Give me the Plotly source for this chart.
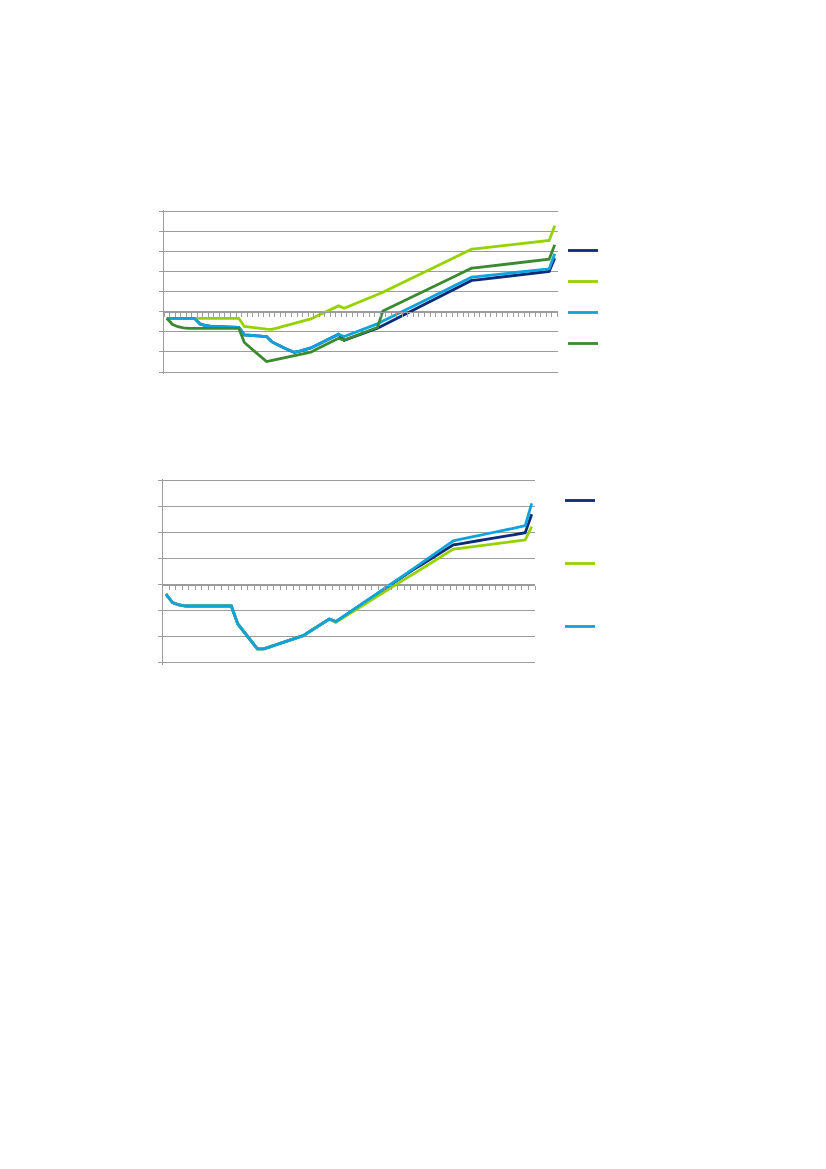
import plotly.graph_objects as go

W, H = 826, 1169

# ---- upper panel: four scenarios, yearly values ----
years_a = list(range(2010, 2081))  # 71 categories

navy_a = [
    -0.32, -0.32, -0.32, -0.32, -0.32, -0.32, -0.60, -0.68, -0.72, -0.73,
    -0.74, -0.75, -0.76, -0.77, -1.15, -1.17, -1.19, -1.21, -1.23, -1.50,
    -1.65, -1.78, -1.90, -2.02, -1.96, -1.89, -1.80, -1.67, -1.53, -1.39,
    -1.25, -1.12, -1.42, -1.32, -1.21, -1.11, -1.01, -0.91, -0.82, -0.68,
    -0.54, -0.40, -0.26, -0.12, 0.03, 0.17, 0.31, 0.45, 0.59, 0.73,
    0.87, 1.01, 1.15, 1.29, 1.43, 1.57, 1.60, 1.63, 1.67, 1.70,
    1.73, 1.76, 1.79, 1.83, 1.86, 1.89, 1.92, 1.95, 1.99, 2.02,
    2.68,
]
lime_a = [
    -0.32, -0.32, -0.32, -0.32, -0.32, -0.32, -0.32, -0.32, -0.32, -0.32,
    -0.32, -0.32, -0.32, -0.32, -0.73, -0.77, -0.80, -0.83, -0.86, -0.87,
    -0.80, -0.73, -0.65, -0.58, -0.50, -0.43, -0.35, -0.22, -0.09, 0.04,
    0.17, 0.30, 0.18, 0.29, 0.40, 0.51, 0.63, 0.74, 0.85, 0.98,
    1.12, 1.25, 1.39, 1.52, 1.65, 1.79, 1.92, 2.06, 2.19, 2.32,
    2.46, 2.59, 2.73, 2.86, 3.00, 3.13, 3.16, 3.19, 3.22, 3.26,
    3.29, 3.32, 3.35, 3.38, 3.41, 3.44, 3.48, 3.51, 3.54, 3.57,
    4.30,
]
sky_a = [
    -0.32, -0.32, -0.32, -0.32, -0.32, -0.32, -0.60, -0.68, -0.72, -0.73,
    -0.74, -0.75, -0.76, -0.77, -1.15, -1.17, -1.19, -1.21, -1.23, -1.50,
    -1.65, -1.78, -1.90, -2.02, -1.96, -1.89, -1.80, -1.67, -1.53, -1.39,
    -1.25, -1.12, -1.23, -1.13, -1.02, -0.92, -0.81, -0.71, -0.60, -0.46,
    -0.33, -0.19, -0.05, 0.08, 0.22, 0.36, 0.49, 0.63, 0.77, 0.90,
    1.04, 1.18, 1.32, 1.45, 1.59, 1.73, 1.76, 1.79, 1.82, 1.85,
    1.88, 1.91, 1.94, 1.97, 2.00, 2.03, 2.06, 2.09, 2.12, 2.15,
    2.90,
]
green_a = [
    -0.32, -0.62, -0.74, -0.80, -0.82, -0.82, -0.82, -0.82, -0.82, -0.82,
    -0.82, -0.82, -0.82, -0.82, -1.53, -1.77, -2.01, -2.25, -2.48, -2.42,
    -2.36, -2.30, -2.24, -2.18, -2.12, -2.07, -2.01, -1.87, -1.73, -1.59,
    -1.46, -1.32, -1.40, -1.30, -1.19, -1.09, -0.99, -0.88, -0.78, 0.05,
    0.18, 0.32, 0.45, 0.58, 0.72, 0.85, 0.98, 1.12, 1.25, 1.38,
    1.52, 1.65, 1.78, 1.92, 2.05, 2.18, 2.21, 2.24, 2.28, 2.31,
    2.34, 2.37, 2.40, 2.44, 2.47, 2.50, 2.53, 2.56, 2.60, 2.63,
    3.35,
]

# ---- lower panel: three scenarios ----
years_b = list(range(2024, 2081))  # 57 categories

navy_b = [
    -0.36, -0.69, -0.78, -0.82, -0.82, -0.82, -0.82, -0.82, -0.82, -0.82,
    -0.82, -1.51, -1.83, -2.15, -2.47, -2.47, -2.39, -2.30, -2.22, -2.14,
    -2.06, -1.96, -1.80, -1.64, -1.48, -1.32, -1.42, -1.25, -1.09, -0.92,
    -0.76, -0.59, -0.41, -0.24, -0.06, 0.11, 0.29, 0.44, 0.60, 0.75,
    0.91, 1.06, 1.22, 1.37, 1.53, 1.57, 1.62, 1.66, 1.70, 1.74,
    1.79, 1.83, 1.87, 1.91, 1.96, 2.00, 2.71,
]
lime_b = [
    -0.36, -0.69, -0.78, -0.82, -0.82, -0.82, -0.82, -0.82, -0.82, -0.82,
    -0.82, -1.51, -1.83, -2.15, -2.47, -2.47, -2.39, -2.30, -2.22, -2.14,
    -2.06, -1.96, -1.80, -1.64, -1.48, -1.32, -1.45, -1.29, -1.14, -0.98,
    -0.82, -0.66, -0.51, -0.35, -0.19, -0.04, 0.12, 0.28, 0.43, 0.59,
    0.75, 0.90, 1.06, 1.22, 1.37, 1.40, 1.43, 1.47, 1.50, 1.53,
    1.56, 1.59, 1.63, 1.66, 1.69, 1.72, 2.23,
]
sky_b = [
    -0.36, -0.69, -0.78, -0.82, -0.82, -0.82, -0.82, -0.82, -0.82, -0.82,
    -0.82, -1.51, -1.83, -2.15, -2.47, -2.47, -2.39, -2.30, -2.22, -2.14,
    -2.06, -1.96, -1.80, -1.64, -1.48, -1.32, -1.42, -1.25, -1.09, -0.92,
    -0.76, -0.59, -0.41, -0.24, -0.06, 0.11, 0.29, 0.46, 0.64, 0.81,
    0.99, 1.16, 1.34, 1.51, 1.69, 1.74, 1.80, 1.85, 1.90, 1.95,
    2.01, 2.06, 2.11, 2.16, 2.22, 2.27, 3.13,
]

NAVY = "#0B2C78"
LIME = "#95D200"
SKY = "#0FA3DE"
GREEN = "#3B8A30"
GRID = "#9C9C9C"
LW = 2.8

# plot-area boxes in pixels (left, right, top, bottom) spanning the value range
box_a = (164.0, 557.5, 211.7, 372.0)
box_b = (162.7, 535.0, 480.7, 662.7)
yr_a = (-3, 5)
yr_b = (-3, 4)
PAD = 2.0  # px of slack so the outermost gridlines are not clipped


def xdom(b):
    return [b[0] / W, b[1] / W]


def padded(b, yr):
    """Vertical domain and value range, both widened by PAD pixels."""
    ppu = (b[3] - b[2]) / (yr[1] - yr[0])
    dom = [1 - (b[3] + PAD) / H, 1 - (b[2] - PAD) / H]
    rng = [yr[0] - PAD / ppu, yr[1] + PAD / ppu]
    return dom, rng


def zero_pos(dom, rng):
    return dom[0] + (0 - rng[0]) / (rng[1] - rng[0]) * (dom[1] - dom[0])


ydom_a, yrng_a = padded(box_a, yr_a)
ydom_b, yrng_b = padded(box_b, yr_b)

fig = go.Figure()

for vals, col, grp in [(navy_a, NAVY, "a1"), (lime_a, LIME, "a2"),
                       (sky_a, SKY, "a3"), (green_a, GREEN, "a4")]:
    fig.add_trace(go.Scatter(
        x=years_a, y=vals, mode="lines", name="",
        line=dict(color=col, width=LW), xaxis="x", yaxis="y",
        legend="legend", legendgroup=grp, hoverinfo="skip"))

for vals, col, grp in [(navy_b, NAVY, "b1"), (lime_b, LIME, "b2"),
                       (sky_b, SKY, "b3")]:
    fig.add_trace(go.Scatter(
        x=years_b, y=vals, mode="lines", name="",
        line=dict(color=col, width=LW), xaxis="x2", yaxis="y2",
        legend="legend2", legendgroup=grp, hoverinfo="skip"))

# empty traces that carry the category axes drawn along the zero line
fig.add_trace(go.Scatter(x=[], y=[], xaxis="x3", yaxis="y", showlegend=False))
fig.add_trace(go.Scatter(x=[], y=[], xaxis="x4", yaxis="y2", showlegend=False))

hidden_x = dict(showgrid=False, showline=False, zeroline=False,
                showticklabels=False, ticks="")
zero_x = dict(showgrid=False, zeroline=False, showticklabels=False,
              showline=True, linecolor=GRID, linewidth=1,
              ticks="outside", ticklen=4, tickcolor=GRID, tickwidth=1,
              tickmode="linear", dtick=1, anchor="free")
val_y = dict(showgrid=True, gridcolor=GRID, gridwidth=1, zeroline=False,
             showline=True, linecolor=GRID, linewidth=1,
             ticks="outside", ticklen=4, tickcolor=GRID,
             showticklabels=False, tickmode="linear", tick0=0, dtick=1)

rng_a = [years_a[0] - 0.5, years_a[-1] + 0.5]
rng_b = [years_b[0] - 0.5, years_b[-1] + 0.5]

fig.update_layout(
    width=W, height=H,
    margin=dict(l=0, r=0, t=0, b=0),
    paper_bgcolor="white", plot_bgcolor="white",
    xaxis=dict(domain=xdom(box_a), range=rng_a, anchor="y", **hidden_x),
    yaxis=dict(domain=ydom_a, range=yrng_a, anchor="x", **val_y),
    xaxis2=dict(domain=xdom(box_b), range=rng_b, anchor="y2", **hidden_x),
    yaxis2=dict(domain=ydom_b, range=yrng_b, anchor="x2", **val_y),
    xaxis3=dict(domain=xdom(box_a), range=rng_a, overlaying="x",
                position=zero_pos(ydom_a, yrng_a), tick0=rng_a[0], **zero_x),
    xaxis4=dict(domain=xdom(box_b), range=rng_b, overlaying="x2",
                position=zero_pos(ydom_b, yrng_b), tick0=rng_b[0], **zero_x),
    legend=dict(x=563 / W, y=1 - 236 / H, xanchor="left", yanchor="top",
                tracegroupgap=12, font=dict(size=10),
                bgcolor="rgba(0,0,0,0)"),
    legend2=dict(x=560 / W, y=1 - 486 / H, xanchor="left", yanchor="top",
                 tracegroupgap=44, font=dict(size=10),
                 bgcolor="rgba(0,0,0,0)"),
    showlegend=True,
)

fig.write_html("out.html")
